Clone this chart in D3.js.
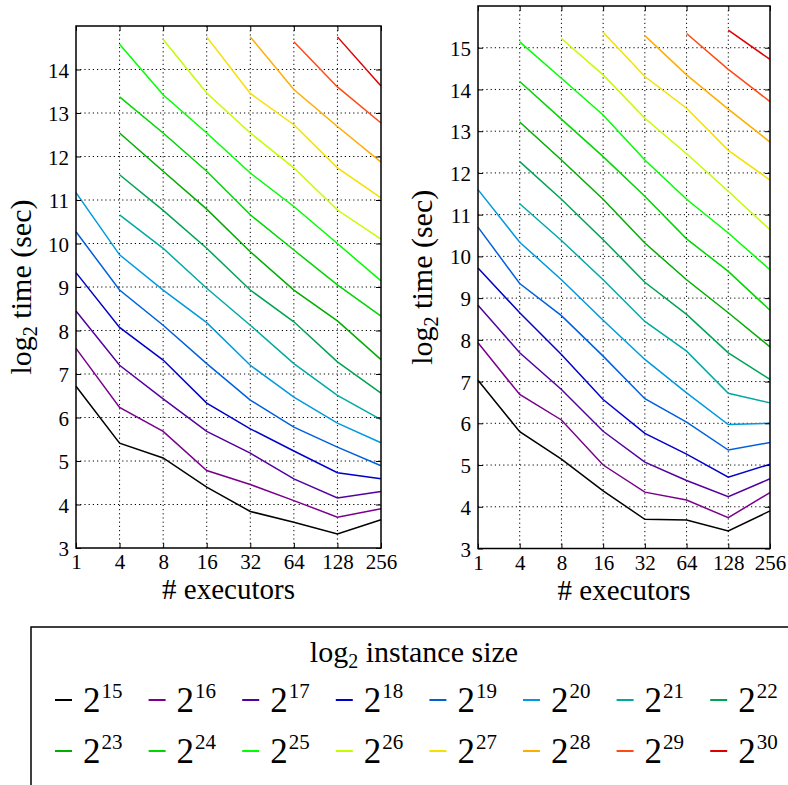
<!DOCTYPE html>
<html><head><meta charset="utf-8">
<script src="https://cdn.jsdelivr.net/npm/d3@7"></script>
<style>
body{margin:0;background:#fff}
svg{display:block}
</style>
</head><body>
<svg id="chart" width="788" height="785"></svg>
<script>
// ---------- data ----------
const executors = ["1","4","8","16","32","64","128","256"];
const sizeExponents = [15,16,17,18,19,20,21,22,23,24,25,26,27,28,29,30];
// log2 time (sec), left panel, one row per instance size (null = not run)
const leftTimes = [
  [6.72, 5.41, 5.07, 4.40, 3.84, 3.59, 3.32, 3.65],
  [7.59, 6.23, 5.68, 4.78, 4.46, 4.09, 3.71, 3.90],
  [8.45, 7.20, 6.43, 5.68, 5.18, 4.59, 4.15, 4.30],
  [9.33, 8.07, 7.32, 6.33, 5.74, 5.23, 4.73, 4.59],
  [10.27, 8.93, 8.12, 7.24, 6.40, 5.78, 5.32, 4.89],
  [11.17, 9.74, 8.93, 8.18, 7.20, 6.47, 5.87, 5.42],
  [null, 10.66, 9.89, 8.97, 8.12, 7.24, 6.51, 5.95],
  [null, 11.58, 10.76, 9.89, 8.93, 8.20, 7.28, 6.56],
  [null, 12.54, 11.66, 10.79, 9.81, 8.93, 8.22, 7.33],
  [null, 13.37, 12.54, 11.66, 10.66, 9.85, 9.05, 8.33],
  [null, 14.58, 13.42, 12.54, 11.62, 10.85, 10.00, 9.14],
  [null, null, 14.69, 13.46, 12.54, 11.74, 10.77, 10.10],
  [null, null, null, 14.75, 13.45, 12.73, 11.74, 11.05],
  [null, null, null, null, 14.75, 13.54, 12.69, 11.87],
  [null, null, null, null, null, 14.64, 13.60, 12.77],
  [null, null, null, null, null, null, 14.75, 13.62]
];
// log2 time (sec), right panel
const rightTimes = [
  [7.03, 5.80, 5.14, 4.38, 3.70, 3.68, 3.42, 3.90],
  [7.93, 6.69, 6.08, 5.00, 4.35, 4.16, 3.74, 4.34],
  [8.83, 7.69, 6.81, 5.81, 5.07, 4.63, 4.24, 4.67],
  [9.72, 8.65, 7.65, 6.57, 5.76, 5.26, 4.71, 5.02],
  [10.70, 9.35, 8.58, 7.61, 6.59, 6.03, 5.36, 5.54],
  [11.60, 10.34, 9.44, 8.47, 7.53, 6.73, 5.97, 6.00],
  [null, 11.26, 10.38, 9.44, 8.44, 7.73, 6.72, 6.49],
  [null, 12.27, 11.37, 10.40, 9.38, 8.61, 7.69, 7.05],
  [null, 13.22, 12.31, 11.37, 10.32, 9.44, 8.65, 7.83],
  [null, 14.19, 13.29, 12.39, 11.44, 10.42, 9.64, 8.71],
  [null, 15.14, 14.27, 13.39, 12.31, 11.37, 10.56, 9.68],
  [null, null, 15.22, 14.35, 13.31, 12.46, 11.56, 10.64],
  [null, null, null, 15.37, 14.31, 13.55, 12.54, 11.83],
  [null, null, null, null, 15.29, 14.35, 13.53, 12.74],
  [null, null, null, null, null, 15.34, 14.48, 13.71],
  [null, null, null, null, null, null, 15.42, 14.72]
];
const leftYTicks = [3,4,5,6,7,8,9,10,11,12,13,14];
const rightYTicks = [3,4,5,6,7,8,9,10,11,12,13,14,15];

// ---------- styles ----------
const FONT = '"Liberation Serif", "Times New Roman", serif';
const seriesColors = ["#000000","#7a008b","#5200a0","#0000c9","#005fdd","#0099dd","#00aaa3","#00a352",
                      "#00ad00","#00d600","#00ff00","#c5fc00","#f5e000","#ffad00","#ff4a14","#dd0000"];

const svg = d3.select("#chart").style("font-family", FONT);
svg.append("rect").attr("width",788).attr("height",785).attr("fill","#fff");

function drawPanel(times, yDomain, yTicks, box, yTitleX) {
  const g = svg.append("g");
  const x = d3.scalePoint().domain(executors).range([box.x0, box.x1]).padding(0);
  const y = d3.scaleLinear().domain(yDomain).range([box.y1, box.y0]);

  // grid
  const grid = g.append("g").attr("stroke","#000").attr("stroke-width",1).attr("stroke-dasharray","1.2,3");
  grid.selectAll("line.v").data(executors.slice(1,-1)).join("line")
    .attr("x1",d=>x(d)).attr("x2",d=>x(d)).attr("y1",box.y0).attr("y2",box.y1);
  grid.selectAll("line.h").data(yTicks.filter(t=>t>yDomain[0])).join("line")
    .attr("x1",box.x0).attr("x2",box.x1).attr("y1",d=>y(d)).attr("y2",d=>y(d));

  // lines
  const line = d3.line().defined(d=>d.v!=null).x(d=>x(d.k)).y(d=>y(d.v));
  times.forEach((row,i)=>{
    g.append("path")
      .datum(row.map((v,j)=>({k:executors[j], v})))
      .attr("fill","none").attr("stroke",seriesColors[i]).attr("stroke-width",1.5)
      .attr("d",line);
  });

  // axes (ticks point inward, like the reference)
  const ax = g.append("g").attr("transform",`translate(0,${box.y1})`)
    .call(d3.axisBottom(x).tickSizeInner(-5).tickSizeOuter(0).tickPadding(10));
  const axTop = g.append("g").attr("transform",`translate(0,${box.y0})`)
    .call(d3.axisTop(x).tickSizeInner(-5).tickSizeOuter(0).tickFormat(""));
  const ay = g.append("g").attr("transform",`translate(${box.x0},0)`)
    .call(d3.axisLeft(y).tickValues(yTicks).tickSizeInner(-5).tickSizeOuter(0).tickPadding(7).tickFormat(d3.format("d")));
  const ayR = g.append("g").attr("transform",`translate(${box.x1},0)`)
    .call(d3.axisRight(y).tickValues(yTicks).tickSizeInner(-5).tickSizeOuter(0).tickFormat(""));
  [ax,axTop,ay,ayR].forEach(a=>{
    a.attr("font-family",FONT).attr("font-size",21);
    a.select(".domain").remove();
    a.selectAll(".tick line").attr("stroke","#000").attr("stroke-width",1);
    a.selectAll("text").style("font-family",FONT).style("font-size","21px").attr("fill","#000");
  });
  ax.selectAll("text").attr("dy",null).attr("y",21);
  ay.selectAll("text").attr("dy","0.36em");

  // frame
  g.append("rect").attr("x",box.x0).attr("y",box.y0)
    .attr("width",box.x1-box.x0).attr("height",box.y1-box.y0)
    .attr("fill","none").attr("stroke","#000").attr("stroke-width",1.5);

  // titles
  g.append("text").attr("x",(box.x0+box.x1)/2).attr("y",box.y1+51)
    .attr("text-anchor","middle").style("font-family",FONT).style("font-size","29px").text("# executors");
  const yt = g.append("text")
    .attr("transform",`translate(${yTitleX},${(box.y0+box.y1)/2}) rotate(-90)`)
    .attr("text-anchor","middle").style("font-family",FONT).style("font-size","30px");
  yt.append("tspan").text("log");
  yt.append("tspan").attr("dy",6).style("font-size","20px").text("2");
  yt.append("tspan").attr("dy",-6).text(" time (sec)");
}

drawPanel(leftTimes, [3,15], leftYTicks, {x0:76,x1:381,y0:26,y1:548}, 31);
drawPanel(rightTimes, [3,16], rightYTicks, {x0:478,x1:770,y0:6,y1:548.5}, 432);

// ---------- legend ----------
const leg = svg.append("g");
leg.append("rect").attr("x",31).attr("y",627).attr("width",766).attr("height",300)
  .attr("fill","#fff").attr("stroke","#000").attr("stroke-width",1.5);
const lt = leg.append("text").attr("x",414).attr("y",662).attr("text-anchor","middle")
  .style("font-family",FONT).style("font-size","30px");
lt.append("tspan").text("log");
lt.append("tspan").attr("dy",6).style("font-size","20px").text("2");
lt.append("tspan").attr("dy",-6).text(" instance size");

sizeExponents.forEach((e,i)=>{
  const col = i % 8, row = Math.floor(i/8);
  const sx = 55 + col*93.6, sy = 700 + row*51;
  leg.append("line").attr("x1",sx).attr("x2",sx+17).attr("y1",sy).attr("y2",sy)
    .attr("stroke",seriesColors[i]).attr("stroke-width",2);
  const t = leg.append("text").attr("x",sx+28).attr("y",sy+12)
    .style("font-family",FONT).style("font-size","35px");
  t.append("tspan").text("2");
  t.append("tspan").attr("dy",-14).attr("dx",1).style("font-size","21px").text(String(e));
});
</script>
</body></html>
